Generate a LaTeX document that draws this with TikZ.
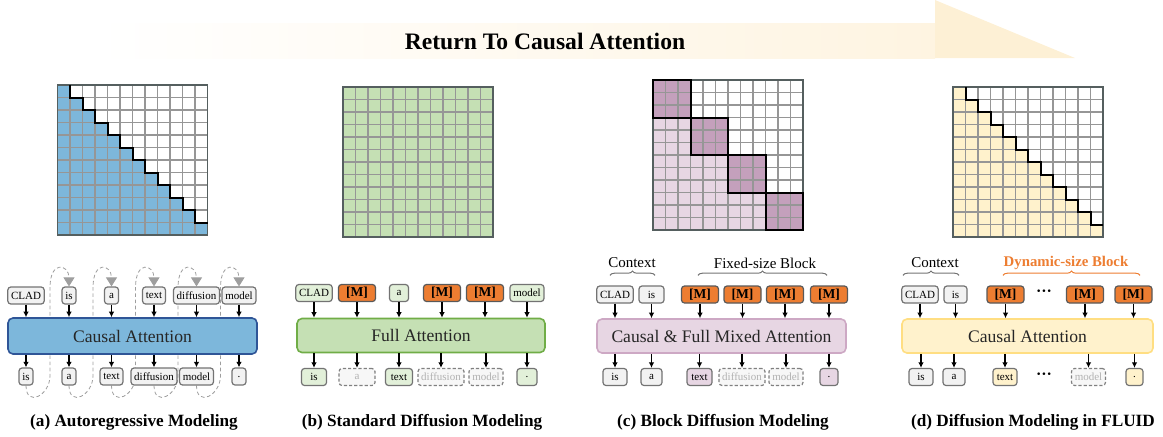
\documentclass[tikz,border=0pt]{standalone}
\usepackage{fontspec}
\setmainfont{Liberation Serif}
\usetikzlibrary{positioning,calc,arrows.meta,decorations.pathreplacing,backgrounds}

\definecolor{attblue}{RGB}{125,183,219}
\definecolor{attblueline}{RGB}{47,85,151}
\definecolor{fullgreen}{RGB}{197,224,180}
\definecolor{fullgreenline}{RGB}{112,173,71}
\definecolor{tokgreen}{RGB}{226,240,217}
\definecolor{mixpink}{RGB}{231,214,227}
\definecolor{mixpinkline}{RGB}{205,168,196}
\definecolor{blockpink}{RGB}{196,160,188}
\definecolor{causalyel}{RGB}{255,242,204}
\definecolor{causalyelline}{RGB}{255,222,130}
\definecolor{maskorange}{RGB}{237,125,49}
\definecolor{tokgray}{RGB}{242,242,242}
\definecolor{gridline}{RGB}{150,150,150}
\definecolor{gridframe}{RGB}{85,95,95}
\definecolor{bandleft}{RGB}{255,255,255}
\definecolor{bandright}{RGB}{254,244,225}
\definecolor{bandhead}{RGB}{253,240,213}

\begin{document}
\begin{tikzpicture}
        [x=0.5pt, y=-0.5pt,
        tok/.style={draw=black!55, fill=tokgray, rounded corners=1.5pt, line width=0.6pt,
                    font=\fontsize{5.5}{6}\selectfont, minimum height=8.5pt, minimum width=7pt,
                    inner xsep=1.6pt, inner ysep=0pt},
        masktok/.style={tok, fill=maskorange, draw=black!65, font=\fontsize{6.8}{7}\selectfont\bfseries,
                    minimum width=18.5pt},
        ghosttok/.style={tok, dash pattern=on 1.6pt off 1pt, draw=black!50, fill=gray!6, text=black!30},
        attn/.style={rounded corners=2.5pt, line width=0.8pt, font=\fontsize{8.8}{10}\selectfont,
                    minimum height=17pt, text=black!85},
        feed/.style={-{Latex[length=2.8pt,width=2.8pt]}, line width=0.6pt},
        loopback/.style={draw=black!38, line width=0.4pt, dash pattern=on 1.8pt off 1.3pt,
                    -{Triangle[length=4.5pt,width=5.5pt,fill=black!38]}},
        gridln/.style={draw=gridline, line width=0.6pt},
        gridbox/.style={draw=gridframe, line width=0.8pt},
        stair/.style={draw=black, line width=1pt},
        note/.style={font=\fontsize{7.5}{8}\selectfont},
        brace/.style={decorate, decoration={brace, amplitude=2.2pt}, line width=0.5pt, draw=black!55},
        dots/.style={font=\fontsize{8}{8}\selectfont\bfseries, inner sep=0pt},
        caption/.style={font=\fontsize{8.6}{10}\selectfont\bfseries}]
\useasboundingbox (0,0) rectangle (1163,436);

% title arrow
\shade[left color=bandleft, right color=bandright] (97,23) rectangle (935,58);
\fill[bandhead] (935,0) -- (1075,58) -- (935,58) -- cycle;
\node[font=\fontsize{11.8}{13}\selectfont\bfseries] (title) at (545,41) {Return To Causal Attention};

% (a) causal mask
\begin{scope}[shift={(57.5,85)}, x=6.25pt, y=-6.25pt]
  \foreach \r in {0,...,11}
    \fill[attblue] (0,\r) rectangle (\r+1,\r+1);
  \foreach \k in {1,...,11}
    \draw[gridln] (\k,0) -- (\k,12) (0,\k) -- (12,\k);
  \draw[gridbox] (0,0) rectangle (12,12);
  \draw[stair] (1,0) \foreach \k in {1,...,11} {-- (\k,\k) -- (\k+1,\k)};
\end{scope}

% (b) full mask
\begin{scope}[shift={(343,87)}, x=6.25pt, y=-6.25pt]
  \fill[fullgreen] (0,0) rectangle (12,12);
  \foreach \k in {1,...,11}
    \draw[gridln] (\k,0) -- (\k,12) (0,\k) -- (12,\k);
  \draw[gridbox] (0,0) rectangle (12,12);
\end{scope}

% (c) block mask
\begin{scope}[shift={(653,80)}, x=6.25pt, y=-6.25pt]
  \fill[mixpink] (0,3) -- (3,3) -- (3,6) -- (6,6) -- (6,9) -- (9,9) -- (9,12) -- (0,12) -- cycle;
  \foreach \b in {0,3,6,9}
    \fill[blockpink] (\b,\b) rectangle ++(3,3);
  \foreach \k in {1,...,11}
    \draw[gridln] (\k,0) -- (\k,12) (0,\k) -- (12,\k);
  \draw[gridbox] (0,0) rectangle (12,12);
  \foreach \b in {0,3,6,9}
    \draw[stair] (\b,\b) rectangle ++(3,3);
\end{scope}

% (d) causal mask again
\begin{scope}[shift={(953,87)}, x=6.25pt, y=-6.25pt]
  \foreach \r in {0,...,11}
    \fill[causalyel] (0,\r) rectangle (\r+1,\r+1);
  \foreach \k in {1,...,11}
    \draw[gridln] (\k,0) -- (\k,12) (0,\k) -- (12,\k);
  \draw[gridbox] (0,0) rectangle (12,12);
  \draw[stair] (1,0) \foreach \k in {1,...,11} {-- (\k,\k) -- (\k+1,\k)};
\end{scope}

% (a) autoregressive
\node[attn, fill=attblue, draw=attblueline, minimum width=124.5pt, minimum height=18pt] (attA) at (132.5,336) {Causal Attention};
\foreach \i/\x/\inp/\out in {0/26/CLAD/is, 1/69/is/a, 2/111.5/a/text, 3/154/text/diffusion, 4/196.5/diffusion/model, 5/239/model/.}
{
  \node[tok] (inA\i) at (\x,295.5) {\inp};
  \node[tok] (outA\i) at (\x,376.5) {\out};
  \draw[feed] (inA\i) -- (inA\i |- attA.north);
  \draw[feed] (outA\i |- attA.south) -- (outA\i);
}
\begin{scope}[on background layer]
  \foreach \i [evaluate=\i as \j using int(\i+1)] in {0,...,4}
    \draw[loopback] (outA\i.south) .. controls +(0,22) and +(0,20) .. ++(24,-10) -- ++(0,-88)
      .. controls +(0,-28) and +(0,-22) .. (inA\j.north);
\end{scope}
\node[caption] (capA) at (134,422) {(a) Autoregressive Modeling};

% (b) standard diffusion
\node[attn, fill=fullgreen, draw=fullgreenline, minimum width=124pt] (attB) at (421,335.5) {Full Attention};
\node[tok, fill=tokgreen] (inB0) at (314,293) {CLAD};
\node[masktok] (inB1) at (357,293) {[M]};
\node[tok, fill=tokgreen, minimum width=9.5pt] (inB2) at (399,293) {a};
\node[masktok] (inB3) at (442,293) {[M]};
\node[masktok] (inB4) at (485,293) {[M]};
\node[tok, fill=tokgreen] (inB5) at (527,293) {model};
\node[tok, fill=tokgreen, minimum width=12.5pt] (outB0) at (314,377) {is};
\node[ghosttok, minimum width=18pt] (outB1) at (357,377) {a};
\node[tok, fill=tokgreen, minimum width=13.5pt] (outB2) at (399,377) {text};
\node[ghosttok] (outB3) at (441,377) {diffusion};
\node[ghosttok] (outB4) at (486,377) {model};
\node[tok, fill=tokgreen, minimum width=10pt] (outB5) at (527,377) {.};
\foreach \i in {0,...,5}
{
  \draw[feed] (inB\i) -- (inB\i |- attB.north);
  \draw[feed] (outB\i |- attB.south) -- (outB\i);
}
\node[caption] (capB) at (422,422) {(b) Standard Diffusion Modeling};

% (c) block diffusion
\node[attn, fill=mixpink, draw=mixpinkline, minimum width=124.5pt] (attC) at (721.5,336) {Causal \& Full Mixed Attention};
\node[tok] (inC0) at (615,294.5) {CLAD};
\node[tok, minimum width=12.5pt] (inC1) at (651.5,294.5) {is};
\node[masktok] (inC2) at (700,294.5) {[M]};
\node[masktok] (inC3) at (742.5,294.5) {[M]};
\node[masktok] (inC4) at (785,294.5) {[M]};
\node[masktok] (inC5) at (829,294.5) {[M]};
\node[tok, minimum width=12pt] (outC0) at (615,377) {is};
\node[tok, minimum width=10.5pt] (outC1) at (651.5,377) {a};
\node[tok, fill=mixpink, minimum width=12.5pt] (outC2) at (699.5,377) {text};
\node[ghosttok] (outC3) at (742,377) {diffusion};
\node[ghosttok] (outC4) at (786,377) {model};
\node[tok, fill=mixpink, minimum width=9pt] (outC5) at (829,377) {.};
\foreach \i in {0,...,5}
{
  \draw[feed] (inC\i) -- (inC\i |- attC.north);
  \draw[feed] (outC\i |- attC.south) -- (outC\i);
}
\draw[brace] ($(inC0.north)+(-5,-10)$) -- ($(inC1.north)+(3.5,-10)$);
\node[note] (ctxC) at (632,263) {Context};
\draw[brace] ($(inC2.north)+(-2,-10)$) -- ($(inC5.north)+(-2,-10)$);
\node[note] (blkC) at (765,263) {Fixed-size Block};
\node[caption] (capC) at (723,422) {(c) Block Diffusion Modeling};

% (d) FLUID
\node[attn, fill=causalyel, draw=causalyelline, minimum width=125.5pt] (attD) at (1027.5,336) {Causal Attention};
\node[tok] (inD0) at (920,294.5) {CLAD};
\node[tok, minimum width=11.5pt] (inD1) at (955.5,294.5) {is};
\node[masktok] (inD2) at (1005.5,294.5) {[M]};
\node[dots] (dotsTop) at (1044,293) {···};
\node[masktok] (inD3) at (1085,294.5) {[M]};
\node[masktok] (inD4) at (1133.5,294.5) {[M]};
\node[tok, minimum width=12pt] (outD0) at (921,377) {is};
\node[tok, minimum width=11pt] (outD1) at (954,377) {a};
\node[tok, fill=causalyel, minimum width=12pt] (outD2) at (1005,377) {text};
\node[dots] (dotsBot) at (1044,376) {···};
\node[ghosttok] (outD3) at (1088.5,377) {model};
\node[tok, fill=causalyel, minimum width=8.5pt] (outD4) at (1134.5,377) {.};
\foreach \i in {0,...,4}
{
  \draw[feed] (inD\i) -- (inD\i |- attD.north);
  \draw[feed] (outD\i |- attD.south) -- (outD\i);
}
\draw[brace] ($(inD0.north)+(-17,-10)$) -- ($(inD1.north)+(3.5,-10)$);
\node[note] (ctxD) at (935,263) {Context};
\draw[brace, draw=maskorange] ($(inD2.north)+(-2.5,-10)$) -- ($(inD4.north)+(6.5,-10)$);
\node[note, font=\fontsize{7.4}{8}\selectfont\bfseries, text=maskorange] (blkD) at (1066,263) {Dynamic-size Block};
\node[caption] (capD) at (1033,422) {(d) Diffusion Modeling in FLUID};
\end{tikzpicture}
\end{document}
